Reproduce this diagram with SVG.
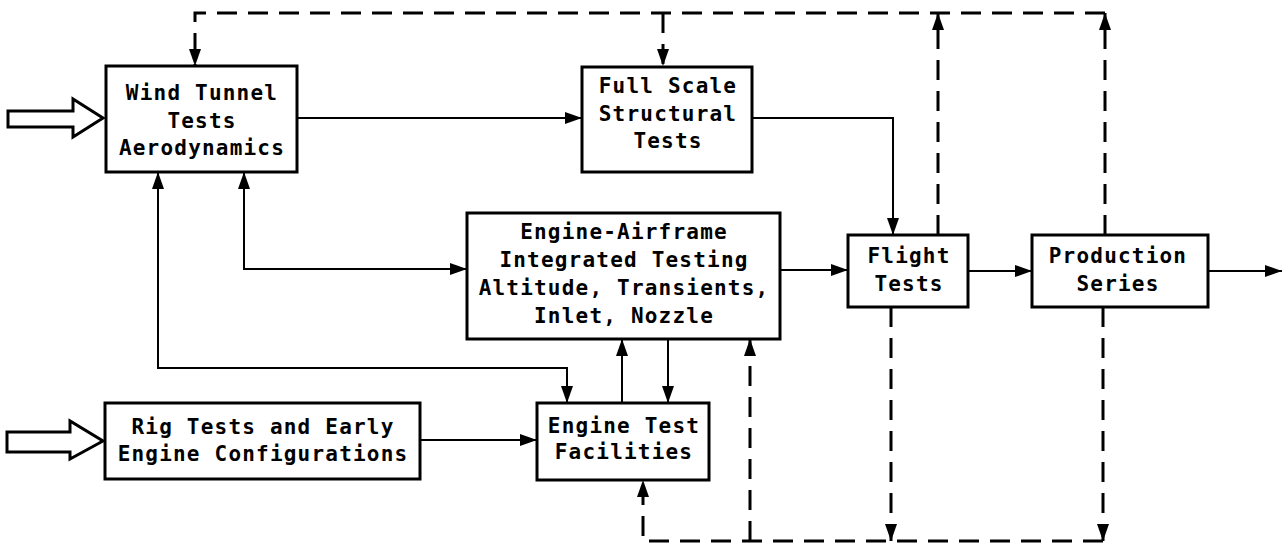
<svg xmlns="http://www.w3.org/2000/svg" width="1286" height="551" viewBox="0 0 1286 551">
<style>
.box{fill:#fff;stroke:#000;stroke-width:3}
.t{font-family:"DejaVu Sans Mono","Liberation Mono",monospace;font-weight:bold;font-size:21px;letter-spacing:1.2px;text-anchor:middle;fill:#000}
.c{fill:none;stroke:#000;stroke-width:2}
.d{fill:none;stroke:#000;stroke-width:3;stroke-dasharray:20 11}
.fat{fill:#fff;stroke:#000;stroke-width:3;stroke-linejoin:miter}
</style>
<defs>
<marker id="ah" markerUnits="userSpaceOnUse" markerWidth="20" markerHeight="14" refX="17" refY="6" orient="auto-start-reverse">
<path d="M0,0 L17,6 L0,12 Z" fill="#000"/>
</marker>
</defs>
<rect width="1286" height="551" fill="#fff"/>
<g id="connectors">
<path class="c" d="M297,118 H582" marker-end="url(#ah)"/>
<path class="c" d="M752,118 H893 V235" marker-end="url(#ah)"/>
<path class="c" d="M244,172 V269 H467" marker-start="url(#ah)" marker-end="url(#ah)"/>
<path class="c" d="M158,172 V368 H567 V403" marker-start="url(#ah)" marker-end="url(#ah)"/>
<path class="c" d="M780,270 H848" marker-end="url(#ah)"/>
<path class="c" d="M968,271 H1032" marker-end="url(#ah)"/>
<path class="c" d="M1208,271 H1282" marker-end="url(#ah)"/>
<path class="c" d="M420,440 H537" marker-end="url(#ah)"/>
<path class="c" d="M622,403 V339" marker-end="url(#ah)"/>
<path class="c" d="M668,339 V403" marker-end="url(#ah)"/>
<path class="d" d="M938,235 V13" marker-end="url(#ah)"/>
<path class="d" d="M1105,235 V13" marker-end="url(#ah)"/>
<path class="d" d="M1105,13 H195 V66" marker-end="url(#ah)"/>
<path class="d" d="M663,13 V66" marker-end="url(#ah)"/>
<path class="d" d="M891,307 V541" marker-end="url(#ah)"/>
<path class="d" d="M1103,307 V541" marker-end="url(#ah)"/>
<path class="d" d="M1103,541 H643 V480" marker-end="url(#ah)"/>
<path class="d" d="M750,541 V339" marker-end="url(#ah)"/>
<polygon class="fat" points="8,111 73,111 73,99 103,118 73,137 73,127 8,127"/>
<polygon class="fat" points="7,432 70,432 70,421 103,441 70,459 70,452 7,452"/>
</g>
<g id="wind-tunnel">
<rect class="box" x="106" y="66" width="191" height="106"/>
<text class="t" x="202" y="100">Wind Tunnel</text>
<text class="t" x="202" y="128">Tests</text>
<text class="t" x="202" y="155">Aerodynamics</text>
</g>
<g id="full-scale">
<rect class="box" x="582" y="67" width="170" height="105"/>
<text class="t" x="668" y="93">Full Scale</text>
<text class="t" x="668" y="121">Structural</text>
<text class="t" x="668" y="148">Tests</text>
</g>
<g id="engine-airframe">
<rect class="box" x="467" y="213" width="313" height="126"/>
<text class="t" x="624" y="239">Engine-Airframe</text>
<text class="t" x="624" y="267">Integrated Testing</text>
<text class="t" x="624" y="295">Altitude, Transients,</text>
<text class="t" x="624" y="323">Inlet, Nozzle</text>
</g>
<g id="flight-tests">
<rect class="box" x="848" y="235" width="120" height="72"/>
<text class="t" x="909" y="263">Flight</text>
<text class="t" x="909" y="291">Tests</text>
</g>
<g id="production">
<rect class="box" x="1032" y="235" width="176" height="72"/>
<text class="t" x="1118" y="263">Production</text>
<text class="t" x="1118" y="291">Series</text>
</g>
<g id="rig-tests">
<rect class="box" x="105" y="403" width="315" height="76"/>
<text class="t" x="263" y="434">Rig Tests and Early</text>
<text class="t" x="263" y="461">Engine Configurations</text>
</g>
<g id="engine-test">
<rect class="box" x="537" y="403" width="172" height="77"/>
<text class="t" x="624" y="433">Engine Test</text>
<text class="t" x="624" y="459">Facilities</text>
</g>
</svg>
